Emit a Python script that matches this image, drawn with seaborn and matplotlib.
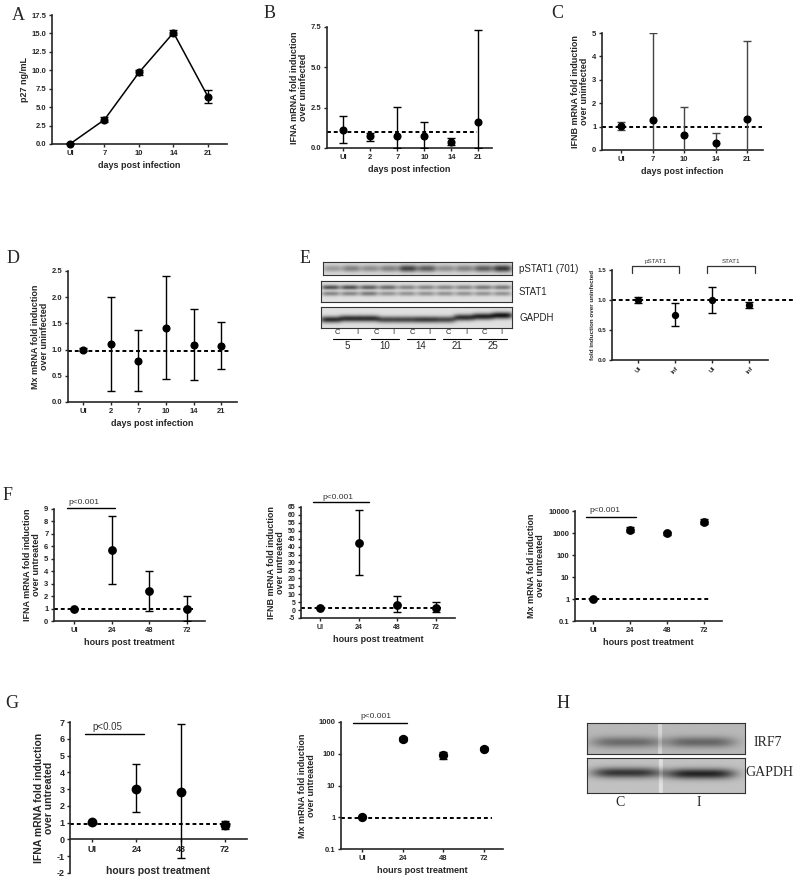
import numpy as np
import pandas as pd
import matplotlib
matplotlib.use('Agg')
import matplotlib.pyplot as plt
import seaborn as sns
from matplotlib.lines import Line2D
from matplotlib.ticker import FixedLocator, FixedFormatter, NullLocator

sns.set_style('ticks')
plt.rcParams['font.family'] = ['Liberation Sans', 'DejaVu Sans']
plt.rcParams['font.weight'] = 'bold'
plt.rcParams['axes.labelweight'] = 'bold'

# ---------------- data ----------------
A_cats = ['UI', '7', '10', '14', '21']
A_vals = [0.0, 3.3, 9.7, 15.1, 6.4]
A_lo = [-0.15, 3.0, 9.4, 14.75, 5.6]
A_hi = [0.15, 3.6, 10.0, 15.45, 7.3]

B_cats = ['UI', '2', '7', '10', '14', '21']
B_vals = [1.1, 0.72, 0.72, 0.72, 0.4, 1.6]
B_lo = [0.3, 0.45, 0.0, 0.0, 0.2, 0.0]
B_hi = [2.0, 0.95, 2.55, 1.6, 0.65, 7.3]

C_cats = ['UI', '7', '10', '14', '21']
C_vals = [1.02, 1.3, 0.65, 0.3, 1.33]
C_lo = [0.85, 0.0, 0.0, 0.0, 0.0]
C_hi = [1.2, 5.0, 1.85, 0.72, 4.67]

D_cats = ['UI', '2', '7', '10', '14', '21']
D_vals = [1.0, 1.11, 0.78, 1.42, 1.09, 1.06]
D_lo = [0.97, 0.21, 0.21, 0.44, 0.42, 0.63]
D_hi = [1.03, 2.0, 1.37, 2.4, 1.77, 1.52]

E_cats = ['UI', 'Inf', 'UI', 'Inf']
E_vals = [1.0, 0.75, 1.0, 0.92]
E_lo = [0.95, 0.56, 0.79, 0.87]
E_hi = [1.05, 0.95, 1.21, 0.97]
E_groups = ['pSTAT1', 'STAT1']

F_cats = ['UI', '24', '48', '72']
F1_vals = [1.0, 5.7, 2.4, 1.0]
F1_lo = [1.0, 3.0, 0.8, 0.0]
F1_hi = [1.0, 8.4, 4.05, 2.02]
F2_vals = [1.0, 42.0, 3.5, 1.5]
F2_lo = [1.0, 22.0, -1.5, -1.5]
F2_hi = [1.0, 63.0, 9.0, 5.0]
F3_vals = [1.0, 1400, 950, 3300]
F3_lo = [1.0, 1100, 800, 2500]
F3_hi = [1.0, 1800, 1150, 4300]

G_cats = ['UI', '24', '48', '72']
G1_vals = [1.02, 3.0, 2.85, 0.85]
G1_lo = [0.95, 1.65, -1.1, 0.65]
G1_hi = [1.1, 4.5, 6.9, 1.1]
G2_vals = [1.0, 290, 90, 145]
G2_lo = [1.0, 250, 70, 130]
G2_hi = [1.0, 340, 115, 160]

# blot band intensities
E_lanes = ['C', 'I'] * 5
E_days = ['5', '10', '14', '21', '25']
pSTAT1_int = [0.25, 0.35, 0.30, 0.35, 0.60, 0.50, 0.30, 0.35, 0.50, 0.65]
STAT1_up = [0.55, 0.55, 0.50, 0.45, 0.35, 0.35, 0.35, 0.35, 0.40, 0.40]
STAT1_low = [0.35, 0.35, 0.40, 0.30, 0.30, 0.30, 0.30, 0.30, 0.30, 0.30]
GAPDH_int = [0.70, 0.70, 0.70, 0.60, 0.60, 0.65, 0.60, 0.70, 0.75, 0.80]
GAPDH_pos = [0.60, 0.55, 0.55, 0.60, 0.60, 0.60, 0.60, 0.50, 0.45, 0.40]
H_lanes = ['C', 'I']
IRF7_int = [0.30, 0.32]
H_GAPDH_int = [0.55, 0.62]

# ---------------- figure ----------------
W, H = 800, 884
fig = plt.figure(figsize=(8, 8.84), dpi=100)


def add_ax(l, t, r, b):
    return fig.add_axes([l / W, 1 - b / H, (r - l) / W, (b - t) / H])


def ftext(x, y, s, **kw):
    fig.text(x / W, 1 - y / H, s, **kw)


def fline(xs, ys, **kw):
    fig.add_artist(Line2D([x / W for x in xs], [1 - y / H for y in ys],
                          transform=fig.transFigure, **kw))


def letter(x, y, s):
    ftext(x, y, s, family='Liberation Serif', fontsize=13, weight='normal',
          ha='center', va='center')


def panel(box, cats, vals, lo, hi, ylim, yticks, ylabels, xlim, ylabel, xlabel,
          fs_tick=5.5, fs_lab=6.5, dash=None, log=False, line=False, s=34,
          ecolor='black', rot=0, zero_spine=False):
    ax = add_ax(*box)
    if log:
        ax.set_yscale('log')
    if zero_spine:
        ax.spines['bottom'].set_position(('data', 0))
    x = np.arange(len(cats))
    v = np.array(vals, float)
    df = pd.DataFrame({'x': x, 'y': v})
    if line:
        sns.lineplot(data=df, x='x', y='y', ax=ax, color='black', lw=1.1, zorder=2)
    if dash is not None:
        ax.plot([xlim[0], dash[0]], [dash[1], dash[1]], color='black', lw=1.4,
                ls=(0, (2, 1.5)), zorder=1, clip_on=False)
    ax.errorbar(x, v, yerr=[v - np.array(lo), np.array(hi) - v], fmt='none',
                ecolor=ecolor, elinewidth=1.0, capsize=3, capthick=1.0, zorder=3)
    sns.scatterplot(data=df, x='x', y='y', ax=ax, color='black', s=s,
                    linewidth=0, zorder=4, clip_on=False)
    ax.set_xlim(*xlim)
    ax.set_ylim(*ylim)
    ax.set_xticks(x)
    if rot:
        ax.set_xticklabels(cats, rotation=rot, ha='center')
    else:
        ax.set_xticklabels(cats)
    ax.yaxis.set_major_locator(FixedLocator(yticks))
    ax.yaxis.set_major_formatter(FixedFormatter(ylabels))
    ax.yaxis.set_minor_locator(NullLocator())
    ax.set_xlabel(xlabel, fontsize=fs_lab, labelpad=3)
    ax.set_ylabel(ylabel, fontsize=fs_lab, labelpad=2, linespacing=1.0)
    sns.despine(ax=ax)
    for sp in ('left', 'bottom'):
        ax.spines[sp].set_linewidth(1.2)
    ax.tick_params(direction='out', length=2.5, width=1, pad=1.5,
                   labelsize=fs_tick)
    return ax


def fmt(vals, f):
    return [f.format(v) for v in vals]


# A
yt = [0, 2.5, 5, 7.5, 10, 12.5, 15, 17.5]
axA = panel((52, 15, 227, 144), A_cats, A_vals, A_lo, A_hi, (0, 17.5), yt,
            fmt(yt, '{:.1f}'), (-0.52, 4.55), 'p27 ng/mL', 'days post infection',
            line=True)
letter(18, 15, 'A')

# B
yt = [0, 2.5, 5, 7.5]
panel((327, 27, 492, 148), B_cats, B_vals, B_lo, B_hi, (0, 7.5), yt,
      fmt(yt, '{:.1f}'), (-0.6, 5.5), 'IFNA mRNA fold induction\nover uninfected',
      'days post infection', dash=(4.96, 1.0))
letter(270, 14, 'B')

# C
yt = [0, 1, 2, 3, 4, 5]
panel((602, 33, 763, 150), C_cats, C_vals, C_lo, C_hi, (0, 5), yt,
      fmt(yt, '{:d}'), (-0.6, 4.5), 'IFNB mRNA fold induction\nover uninfected',
      'days post infection', dash=(4.48, 0.97), ecolor='#444444')
letter(557, 13, 'C')

# D
yt = [0, 0.5, 1.0, 1.5, 2.0, 2.5]
panel((68, 271, 237, 402), D_cats, D_vals, D_lo, D_hi, (0, 2.5), yt,
      fmt(yt, '{:.1f}'), (-0.54, 5.56), 'Mx mRNA fold induction\nover uninfected',
      'days post infection', dash=(5.3, 0.98))
letter(13, 258, 'D')

# E plot
yt = [0, 0.5, 1.0, 1.5]
axE = panel((612, 270, 768, 360), E_cats, E_vals, E_lo, E_hi, (0, 1.5), yt,
            fmt(yt, '{:.1f}'), (-0.7, 3.5), 'fold induction over uninfected', '',
            fs_tick=4.5, fs_lab=4.5, dash=(4.24, 1.0), s=28, rot=50)
for (x0, x1), g in zip([(-0.16, 1.1), (1.86, 3.16)], E_groups):
    axE.plot([x0, x0, x1, x1], [1.45, 1.567, 1.567, 1.45], color='#333333',
             lw=0.9, clip_on=False)
    axE.text((x0 + x1) / 2, 1.635, g, fontsize=4.5, weight='normal',
             ha='center', va='center', color='#333333')
letter(305, 258, 'E')


# blots
def blot_img(cx, dark, cy, sy, bg, lane_w, nrows=60, ncols=400):
    yy = np.linspace(0, 1, nrows)[:, None]
    xx = np.linspace(0, 1, ncols)[None, :]
    img = np.full((nrows, ncols), bg, float)
    for c, d, y in zip(cx, dark, cy):
        lane = np.exp(-((xx - c) / lane_w) ** 4)
        band = np.exp(-((yy - y) / sy) ** 2)
        img -= d * lane * band
    return np.clip(img, 0, 1)


def blot_ax(box, img):
    ax = add_ax(*box)
    ax.imshow(img, cmap='gray', vmin=0, vmax=1, aspect='auto',
              interpolation='bilinear')
    ax.set_xticks([])
    ax.set_yticks([])
    for sp in ax.spines.values():
        sp.set_visible(True)
        sp.set_linewidth(0.8)
        sp.set_color('#333333')
    return ax


n = len(E_lanes)
cx = [(i + 0.5) / n for i in range(n)]
blot_ax((323, 262, 512, 275),
        blot_img(cx, pSTAT1_int, [0.5] * n, 0.28, 0.86, 0.05))
img = blot_img(cx, STAT1_up, [0.3] * n, 0.12, 0.88, 0.048)
img = np.minimum(img, blot_img(cx, STAT1_low, [0.6] * n, 0.12, 0.88, 0.048))
blot_ax((321, 281, 512, 302), img)
blot_ax((321, 307, 512, 328),
        blot_img(cx, GAPDH_int, GAPDH_pos, 0.16, 0.88, 0.055))
for y, s in [(269, 'pSTAT1 (701)'), (292, 'STAT1'), (318, 'GAPDH')]:
    ftext(519, y, s, fontsize=7, weight='normal', va='center', ha='left')
lane_px = [337, 357, 376, 393, 412, 429, 448, 466, 484, 501]
for xp, s in zip(lane_px, E_lanes):
    ftext(xp, 333, s, fontsize=5.5, weight='normal', ha='center', va='center')
for i, d in enumerate(E_days):
    xc = (lane_px[2 * i] + lane_px[2 * i + 1]) / 2
    fline([xc - 14, xc + 14], [339, 339], color='black', lw=0.8)
    ftext(xc, 346, d, fontsize=7, weight='normal', ha='center', va='center')

# F1
yt = list(range(0, 10))
f1 = panel((54, 509, 205, 621), F_cats, F1_vals, F1_lo, F1_hi, (0, 9), yt,
           fmt(yt, '{:d}'), (-0.53, 3.48), 'IFNA mRNA fold induction\nover untreated',
           'hours post treatment', dash=(3.16, 0.95), s=40)
f1.plot([-0.18, 1.08], [9.05, 9.05], color='black', lw=1, clip_on=False)
f1.text(-0.15, 9.5, 'p<0.001', fontsize=6, weight='normal', ha='left',
        va='center', color='#333333')
letter(8, 495, 'F')

# F2
yt = list(range(-5, 70, 5))
f2 = panel((301, 507, 455, 618), F_cats, F2_vals, F2_lo, F2_hi, (-5, 65), yt,
           fmt(yt, '{:d}'), (-0.5, 3.5), 'IFNB mRNA fold induction\nover untreated',
           'hours post treatment', dash=(3.15, 1.0), s=40, fs_tick=5)
f2.plot([-0.2, 1.27], [68, 68], color='black', lw=1, clip_on=False)
f2.text(0.05, 71.3, 'p<0.001', fontsize=6, weight='normal', ha='left',
        va='center', color='#333333')

# F3
yt = [0.1, 1, 10, 100, 1000, 10000]
f3 = panel((575, 511, 722, 621), F_cats, F3_vals, F3_lo, F3_hi, (0.1, 10000), yt,
           ['0.1', '1', '10', '100', '1000', '10000'], (-0.49, 3.5),
           'Mx mRNA fold induction\nover untreated', 'hours post treatment',
           dash=(3.2, 0.95), log=True, s=40)
f3.plot([-0.19, 1.17], [5340, 5340], color='black', lw=1, clip_on=False)
f3.text(-0.1, 10000, 'p<0.001', fontsize=6, weight='normal', ha='left',
        va='center', color='#333333')

# G1
yt = list(range(-2, 8))
g1 = panel((70, 722, 247, 873), G_cats, G1_vals, G1_lo, G1_hi, (-2, 7), yt,
           fmt(yt, '{:d}'), (-0.5, 3.5), 'IFNA mRNA fold induction\nover untreated',
           '', fs_tick=6.5, fs_lab=7.5, dash=(3.18, 0.95), s=50, zero_spine=True)
g1.text(0.5, 0.012, 'hours post treatment', transform=g1.transAxes,
        fontsize=7.5, ha='center', va='center')
g1.plot([-0.16, 1.17], [6.29, 6.29], color='black', lw=1, clip_on=False)
g1.text(0.0, 6.7, 'p<0.05', fontsize=7, weight='normal', ha='left',
        va='center', color='#333333')
letter(12, 703, 'G')

# G2
yt = [0.1, 1, 10, 100, 1000]
g2 = panel((341, 722, 503, 849), G_cats, G2_vals, G2_lo, G2_hi, (0.1, 1000), yt,
           ['0.1', '1', '10', '100', '1000'], (-0.52, 3.48),
           'Mx mRNA fold induction\nover untreated', 'hours post treatment',
           fs_tick=5.5, fs_lab=6.5, dash=(3.2, 0.95), log=True, s=45)
g2.plot([-0.22, 1.1], [910, 910], color='black', lw=1, clip_on=False)
g2.text(-0.05, 1545, 'p<0.001', fontsize=6, weight='normal', ha='left',
        va='center', color='#333333')

# H blots
hc = [0.25, 0.72]
img = blot_img(hc, IRF7_int, [0.62, 0.62], 0.18, 0.72, 0.22)
img[:, 180:190] = np.minimum(img[:, 180:190] + 0.12, 1)
blot_ax((587, 723, 745, 754), img)
img = blot_img(hc, H_GAPDH_int, [0.42, 0.45], 0.15, 0.76, 0.22)
img[:, 182:192] = np.minimum(img[:, 182:192] + 0.12, 1)
blot_ax((587, 758, 745, 793), img)
ftext(754, 743, 'IRF7', family='Liberation Serif', fontsize=10, weight='normal',
      ha='left', va='center')
ftext(745, 772, 'GAPDH', family='Liberation Serif', fontsize=10, weight='normal',
      ha='left', va='center')
for xp, s in zip([620, 699], H_lanes):
    ftext(xp, 803, s, family='Liberation Serif', fontsize=10, weight='normal',
          ha='center', va='center')
letter(563, 704, 'H')

fig.savefig('out.png', dpi=100)
